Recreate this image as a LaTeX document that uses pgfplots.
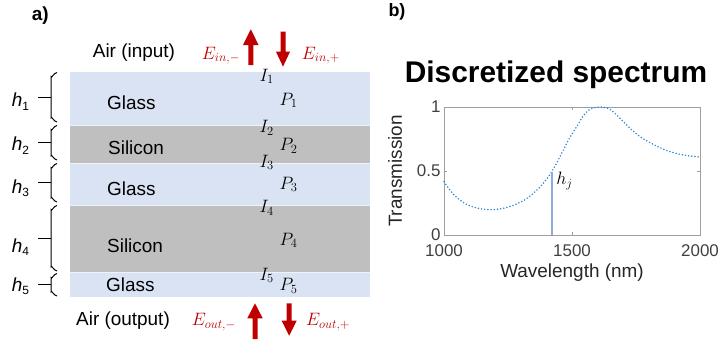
\RequirePackage{fix-cm}
\documentclass[border=0pt]{standalone}
\usepackage[no-math]{fontspec}
\setmainfont{Liberation Sans}
\usepackage{pgfplots}
\pgfplotsset{compat=1.18}
\definecolor{glass}{HTML}{DAE3F3}
\definecolor{silicon}{HTML}{BFBFBF}
\definecolor{darkred}{HTML}{C00000}
\definecolor{mblue}{HTML}{2E86D0}
\definecolor{hline}{HTML}{8FAADC}
\definecolor{tickgray}{HTML}{404040}
\definecolor{labgray}{HTML}{262626}
\newcommand{\fs}[1]{\fontsize{#1}{#1}\selectfont}

\begin{document}
\begin{tikzpicture}[x=1bp,y=1bp]
\path[use as bounding box] (0,0) rectangle (720,339);
\begin{scope}[shift={(0,339)},yscale=-1]
 % layers
 \fill[glass] (70,72) rectangle (370,125);
 \fill[silicon] (70,125) rectangle (370,163);
 \fill[glass] (70,163) rectangle (370,205);
 \fill[silicon] (70,205) rectangle (370,272);
 \fill[glass] (70,272) rectangle (370,297);
 \foreach \y in {125,163,205,272} \draw[white!55!glass, line width=0.7bp] (70,\y) -- (370,\y);
 % braces
 \foreach \a/\b in {72.5/122, 125.5/160, 163.5/202, 205.5/271, 273.5/296}{
   \draw[line width=1bp] (57,\a) to[out=180,in=90] (51,\a+4) -- (51,\b-4) to[out=-90,in=180] (57,\b);
   \draw[line width=1bp] (38,{(\a+\b)/2}) -- (51,{(\a+\b)/2});
 }
 % h labels
 \foreach \n/\yy in {1/106.7, 2/150.7, 3/193.3, 4/252, 5/291}{
   \node[anchor=base west, inner sep=0pt, font=\fs{19}\itshape] at (11.7,\yy) {h\raisebox{-3.5bp}{\upshape\fs{12}\n}};
 }
 % layer names
 \node[anchor=base west, inner sep=0pt, font=\fs{19}] at (107,109) {Glass};
 \node[anchor=base west, inner sep=0pt, font=\fs{19}] at (108,154) {Silicon};
 \node[anchor=base west, inner sep=0pt, font=\fs{19}] at (107,195) {Glass};
 \node[anchor=base west, inner sep=0pt, font=\fs{19}] at (107,252.7) {Silicon};
 \node[anchor=base west, inner sep=0pt, font=\fs{19}] at (106,291.7) {Glass};
 \node[anchor=base west, inner sep=0pt, font=\fs{19}] at (92.7,57.3) {Air (input)};
 \node[anchor=base west, inner sep=0pt, font=\fs{19}] at (76,325) {Air (output)};
 % I and P labels
 \foreach \n/\yy in {1/81, 2/132.7, 3/167, 4/212.7, 5/280}{
   \node[anchor=base west, inner sep=0pt, font=\fs{18}] at (259.3,\yy) {$I_{\n}$};
 }
 \foreach \n/\yy in {1/105, 2/150.7, 3/189.3, 4/245, 5/290.7}{
   \node[anchor=base west, inner sep=0pt, font=\fs{18}] at (279.3,\yy) {$P_{\n}$};
 }
 % E labels
 \node[anchor=base west, inner sep=0pt, font=\fs{18}, text=darkred] at (201.7,59.3) {$E_{in,-}$};
 \node[anchor=base west, inner sep=0pt, font=\fs{18}, text=darkred] at (301.7,59.3) {$E_{in,+}$};
 \node[anchor=base west, inner sep=0pt, font=\fs{18}, text=darkred] at (191.7,325.7) {$E_{out,-}$};
 \node[anchor=base west, inner sep=0pt, font=\fs{18}, text=darkred] at (306,325.7) {$E_{out,+}$};
 % arrows
 \fill[darkred] (248.3,65) -- (248.3,45) -- (243,45) -- (250.8,29.3) -- (258.6,45) -- (253.3,45) -- (253.3,65) -- cycle;
 \fill[darkred] (280.5,31.7) -- (280.5,51.7) -- (276,51.7) -- (283,66.7) -- (290,51.7) -- (285.5,51.7) -- (285.5,31.7) -- cycle;
 \fill[darkred] (252.5,339) -- (252.5,318.3) -- (247.3,318.3) -- (255,303.3) -- (262.7,318.3) -- (257.5,318.3) -- (257.5,339) -- cycle;
 \fill[darkred] (286.5,303.3) -- (286.5,320.7) -- (281.7,320.7) -- (289.2,335.7) -- (296.7,320.7) -- (291.5,320.7) -- (291.5,303.3) -- cycle;
 % panel letters and title
 \node[anchor=base west, inner sep=0pt, font=\fs{19}\bfseries] at (31.7,20) {a)};
 \node[anchor=base west, inner sep=0pt, font=\fs{18}\bfseries] at (388.3,16.2) {b)};
 \node[anchor=base, inner sep=0pt, font=\fs{30}\bfseries] at (556,82) {Discretized spectrum};
\end{scope}

\begin{axis}[
  at={(444bp,104bp)}, anchor=south west,
  width=256bp, height=128bp, scale only axis,
  xmin=1000, xmax=2000, ymin=0, ymax=1,
  xtick={1000,1500,2000}, ytick={0,0.5,1},
  tick align=inside, xtick pos=both, ytick pos=both,
  major tick length=3bp,
  axis line style={draw=gray!75, line width=0.6bp},
  tick style={draw=gray!75, line width=0.6bp},
  ticklabel style={font=\fs{17}, text=tickgray},
  xticklabel style={yshift=-6bp},
  /pgf/number format/assume math mode=true,
  /pgf/number format/1000 sep={},
  xlabel={Wavelength (nm)}, ylabel={Transmission},
  label style={font=\fs{19}, text=labgray},
  xlabel style={at={(axis description cs:0.5,-0.29)}, anchor=center},
  ylabel style={at={(axis description cs:-0.191,0.5)}, anchor=center},
  clip=false,
]
\addplot[mblue, line width=1.7bp, line cap=round, dash pattern=on 0pt off 3.2bp, smooth] coordinates {
(1000,0.416) (1023,0.352) (1049,0.294) (1088,0.240) (1128,0.211) (1173,0.198)
(1219,0.203) (1264,0.227) (1310,0.268) (1349,0.326) (1388,0.404) (1421,0.495)
(1453,0.612) (1479,0.716) (1500,0.790) (1518,0.846) (1544,0.930) (1570,0.982)
(1610,1.000) (1648,0.982) (1688,0.911) (1727,0.833) (1766,0.768) (1805,0.721)
(1844,0.682) (1883,0.651) (1922,0.630) (1961,0.617) (2000,0.609)
};
\addplot[hline, line width=2bp] coordinates {(1420,0) (1420,0.495)};
\node[anchor=north west, inner sep=0pt, font=\fs{18}] at (axis cs:1438,0.49) {$h_j$};
\end{axis}
\end{tikzpicture}
\end{document}
